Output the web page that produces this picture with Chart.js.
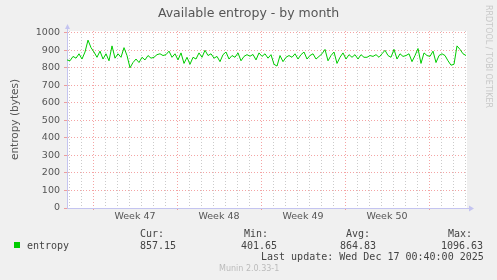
<!DOCTYPE html>
<html><head><meta charset="utf-8">
<script src="https://cdn.jsdelivr.net/npm/chart.js@4/dist/chart.umd.min.js"></script>
<style>html,body{margin:0;padding:0;background:#f0f0f0;}canvas{display:block}</style>
</head><body>
<canvas id="c" width="497" height="280"></canvas>
<script>
// ---- data ----
const chartTitle = 'Available entropy - by month';
const yAxisTitle = 'entropy (bytes)';
const seriesName = 'entropy';
// one sample every 6 hours (0.25 day), starting at the left edge of the plot
const sampleStepDays = 0.25;
const entropyValues = [
  845,840,865,855,880,850,890,958,915,890,860,895,850,880,840,925,855,880,860,915,
  870,800,830,850,830,860,845,870,855,860,875,880,870,875,895,860,880,845,885,825,
  860,820,860,850,885,860,900,870,880,855,865,835,875,890,850,870,860,885,840,865,
  875,866,876,845,885,865,880,855,875,820,810,870,835,860,870,860,880,850,875,890,
  850,870,880,850,865,880,905,840,870,890,825,860,885,850,875,860,875,850,875,860,
  860,870,865,875,860,880,900,870,860,905,850,880,865,870,880,835,870,910,825,885,
  870,865,895,830,870,880,870,840,815,820,925,905,880,870
];
const xRangeDays = 33.3333;
const weekLabels = ['Week 47','Week 48','Week 49','Week 50'];
const weekMidDays = [5.6667, 12.6667, 19.6667, 26.6667];
const weekStartDays = [2.1667, 9.1667, 16.1667, 23.1667, 30.1667];
const firstDayLine = 0.1667;
const yMax = 1010;
const yMajorStep = 100;
const yMinorStep = 50;
const yTickMax = 1000;
const statLabels = ['Cur:','Min:','Avg:','Max:'];
const statValues = ['857.15','401.65','864.83','1096.63'];
const lastUpdate = 'Last update: Wed Dec 17 00:40:00 2025';
const footerText = 'Munin 2.0.33-1';
const sideText = 'RRDTOOL / TOBI OETIKER';

// ---- styling ----
const GREEN = '#00cc00';
const MAJOR = 'rgba(235,90,90,0.55)';
const MINOR = 'rgba(140,140,140,0.45)';
const AXIS = '#c4c4f0';
const TXT = '#555555';
const SANS = '"DejaVu Sans", sans-serif';
const MONO = '"DejaVu Sans Mono", monospace';

const points = entropyValues.map((v, i) => ({x: i * sampleStepDays, y: v}));

const dayLines = [];
for (let d = firstDayLine; d < xRangeDays; d += 1) dayLines.push(+d.toFixed(4));
const isMid = v => weekMidDays.some(m => Math.abs(m - v) < 1e-3);
const isWeek = v => weekStartDays.some(m => Math.abs(m - v) < 1e-3);

const decor = {
  id: 'decor',
  beforeDraw(chart) {
    const {ctx, chartArea: a} = chart;
    ctx.save();
    ctx.fillStyle = '#ffffff';
    ctx.fillRect(a.left, a.top, a.right - a.left, a.bottom - a.top);
    ctx.restore();
  },
  afterDraw(chart) {
    const {ctx, chartArea: a} = chart;
    ctx.save();
    // axis extensions + arrows
    ctx.strokeStyle = AXIS; ctx.fillStyle = AXIS; ctx.lineWidth = 1;
    ctx.beginPath(); ctx.moveTo(a.left + 0.5, a.top); ctx.lineTo(a.left + 0.5, a.top - 3); ctx.stroke();
    ctx.beginPath(); ctx.moveTo(a.left - 2, a.top - 2); ctx.lineTo(a.left + 3, a.top - 2); ctx.lineTo(a.left + 0.5, a.top - 7); ctx.closePath(); ctx.fill();
    const by = Math.round(a.bottom) + 0.5;
    ctx.beginPath(); ctx.moveTo(a.right, by); ctx.lineTo(a.right + 3, by); ctx.stroke();
    ctx.beginPath(); ctx.moveTo(a.right + 2, by - 3); ctx.lineTo(a.right + 2, by + 3); ctx.lineTo(a.right + 7, by); ctx.closePath(); ctx.fill();

    // side text
    ctx.fillStyle = '#c8c8c8';
    ctx.font = '8px ' + SANS;
    ctx.textAlign = 'left'; ctx.textBaseline = 'middle';
    ctx.translate(488, 5);
    ctx.rotate(Math.PI / 2);
    ctx.fillText(sideText, 0, 0);
    ctx.setTransform(1, 0, 0, 1, 0, 0);

    // legend
    ctx.fillStyle = GREEN;
    ctx.fillRect(14, 242, 6, 6);
    ctx.fillStyle = '#444444';
    ctx.font = '10px ' + MONO;
    ctx.textBaseline = 'middle';
    ctx.fillText(seriesName, 27, 246);
    const labelX = [140, 244, 346, 448];
    const valueX = [140, 241, 340, 441];
    statLabels.forEach((s, i) => ctx.fillText(s, labelX[i], 234));
    statValues.forEach((s, i) => ctx.fillText(s, valueX[i], 246));
    ctx.fillText(lastUpdate, 261, 257);
    ctx.fillStyle = '#bbbbbb';
    ctx.font = '8px ' + SANS;
    ctx.fillText(footerText, 219, 269);
    ctx.restore();
  }
};

new Chart(document.getElementById('c'), {
  type: 'line',
  data: {
    datasets: [{
      label: seriesName,
      data: points,
      borderColor: GREEN,
      borderWidth: 1,
      pointRadius: 0,
      tension: 0,
      fill: false
    }]
  },
  options: {
    responsive: false,
    animation: false,
    devicePixelRatio: 1,
    layout: {padding: {left: 0, right: 0, top: 0, bottom: 58}},
    plugins: {
      legend: {display: false},
      tooltip: {enabled: false},
      title: {
        display: true, text: chartTitle, color: TXT,
        font: {family: SANS, size: 12.5, weight: 'normal'},
        padding: {top: 6, bottom: 10}
      }
    },
    scales: {
      x: {
        type: 'linear', position: 'bottom', min: 0, max: xRangeDays,
        afterBuildTicks: s => {
          s.ticks = dayLines.concat(weekMidDays).sort((a, b) => a - b).map(v => ({value: v}));
        },
        afterFit: s => { s.height = 14; },
        ticks: {
          autoSkip: false, maxRotation: 0, minRotation: 0, padding: 1,
          color: TXT, font: {family: SANS, size: 9.5},
          callback: v => { const i = weekMidDays.findIndex(m => Math.abs(m - v) < 1e-3); return i >= 0 ? weekLabels[i] : ''; }
        },
        grid: {
          color: c => isMid(c.tick.value) ? 'rgba(0,0,0,0)' : (isWeek(c.tick.value) ? MAJOR : MINOR),
          tickColor: c => isWeek(c.tick.value) ? MAJOR : 'rgba(0,0,0,0)',
          tickLength: 2, lineWidth: 1
        },
        border: {display: true, color: AXIS, width: 1, dash: [1, 2]}
      },
      y: {
        min: 0, max: yMax,
        afterBuildTicks: s => {
          const t = [];
          for (let v = 0; v <= yTickMax; v += yMinorStep) t.push({value: v});
          s.ticks = t;
        },
        afterFit: s => { s.width = 67; },
        ticks: {
          padding: 4, color: TXT, font: {family: SANS, size: 9.5},
          callback: v => (v % yMajorStep === 0 ? String(v) : '')
        },
        grid: {
          color: c => (c.tick.value % yMajorStep === 0 ? MAJOR : MINOR),
          tickColor: c => (c.tick.value % yMajorStep === 0 ? MAJOR : 'rgba(0,0,0,0)'),
          tickLength: 3, lineWidth: 1
        },
        border: {display: true, color: AXIS, width: 1, dash: [1, 2]},
        title: {display: true, text: yAxisTitle, color: TXT, font: {family: SANS, size: 10.5}, padding: {top: 9, bottom: 0}}
      },
      yRight: {
        position: 'right', min: 0, max: yMax,
        afterFit: s => { s.width = 30; },
        ticks: {display: false},
        grid: {display: false, drawTicks: false},
        border: {display: false}
      }
    }
  },
  plugins: [decor]
});
</script>
</body></html>
